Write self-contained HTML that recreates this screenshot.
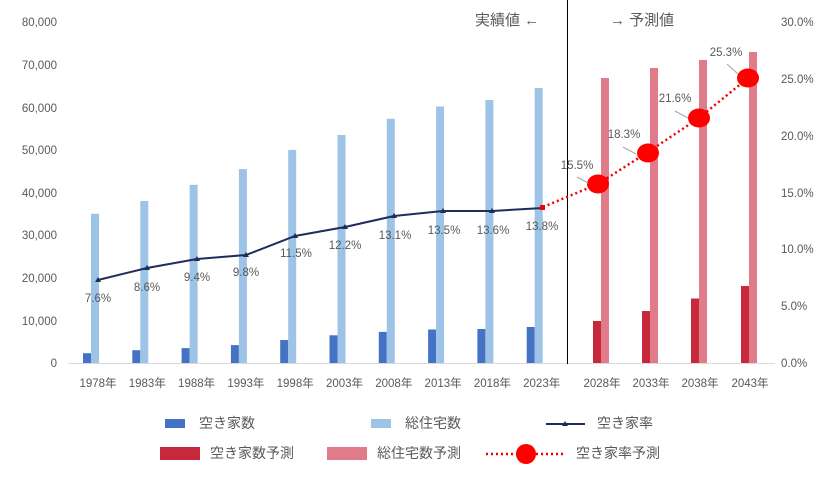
<!DOCTYPE html>
<html><head><meta charset="utf-8"><style>
body{margin:0;background:#fff}
svg text{font-family:"Liberation Sans","Noto Sans CJK JP",sans-serif;fill:#595959}
</style></head><body>
<svg width="830" height="472" xmlns="http://www.w3.org/2000/svg">
<rect width="830" height="472" fill="#fff"/>
<g font-size="11.5" text-anchor="end">
<text x="57" y="367">0</text><text x="57" y="325">10,000</text><text x="57" y="282">20,000</text><text x="57" y="239">30,000</text><text x="57" y="197">40,000</text><text x="57" y="154">50,000</text><text x="57" y="112">60,000</text><text x="57" y="69">70,000</text><text x="57" y="26">80,000</text>
</g>
<g font-size="11.5" text-anchor="start">
<text x="781" y="367">0.0%</text><text x="781" y="310">5.0%</text><text x="781" y="253">10.0%</text><text x="781" y="197">15.0%</text><text x="781" y="140">20.0%</text><text x="781" y="83">25.0%</text><text x="781" y="26">30.0%</text>
</g>
<line x1="68" y1="363.5" x2="775" y2="363.5" stroke="#d9d9d9"/>
<line x1="567.5" y1="0" x2="567.5" y2="364" stroke="#000"/>
<g fill="#4472c4">
<rect x="83" y="353.2" width="8" height="9.8"/><rect x="132.3" y="350.2" width="8" height="12.8"/><rect x="181.6" y="348.1" width="8" height="14.9"/><rect x="230.9" y="345.1" width="8" height="17.9"/><rect x="280.2" y="340" width="8" height="23"/><rect x="329.5" y="335.3" width="8" height="27.7"/><rect x="378.8" y="331.9" width="8" height="31.1"/><rect x="428.1" y="329.5" width="8" height="33.5"/><rect x="477.4" y="329" width="8" height="34"/><rect x="526.7" y="327" width="8" height="36"/>
</g>
<g fill="#9dc3e6">
<rect x="91" y="213.8" width="8" height="149.2"/><rect x="140.3" y="201" width="8" height="162"/><rect x="189.6" y="184.8" width="8" height="178.2"/><rect x="238.9" y="169.1" width="8" height="193.9"/><rect x="288.2" y="149.9" width="8" height="213.1"/><rect x="337.5" y="135" width="8" height="228"/><rect x="386.8" y="118.8" width="8" height="244.2"/><rect x="436.1" y="106.5" width="8" height="256.5"/><rect x="485.4" y="100" width="8" height="263"/><rect x="534.7" y="88" width="8" height="275"/>
</g>
<g fill="#c8283c">
<rect x="593" y="321" width="8" height="42"/><rect x="642" y="311" width="8" height="52"/><rect x="691" y="298.5" width="8" height="64.5"/><rect x="741" y="286" width="8" height="77"/>
</g>
<g fill="#e07b8a">
<rect x="601" y="78" width="8" height="285"/><rect x="650" y="68" width="8" height="295"/><rect x="699" y="60" width="8" height="303"/><rect x="749" y="52" width="8" height="311"/>
</g>
<g font-size="11.5" text-anchor="middle">
<text x="98" y="387">1978年</text><text x="147.3" y="387">1983年</text><text x="196.6" y="387">1988年</text><text x="245.9" y="387">1993年</text><text x="295.2" y="387">1998年</text><text x="344.5" y="387">2003年</text><text x="393.8" y="387">2008年</text><text x="443.1" y="387">2013年</text><text x="492.4" y="387">2018年</text><text x="541.7" y="387">2023年</text><text x="602" y="387">2028年</text><text x="651" y="387">2033年</text><text x="700" y="387">2038年</text><text x="750" y="387">2043年</text>
</g>
<polyline fill="none" stroke="#1f2d5c" stroke-width="2" points="98,280 147,268 197,259 246,255 295,236 345,227 394,216 443,211 492,211 543,208"/>
<g fill="#1f2d5c">
<path d="M98,277 l3,5 h-6z"/><path d="M147,265 l3,5 h-6z"/><path d="M197,256 l3,5 h-6z"/><path d="M246,252 l3,5 h-6z"/><path d="M295,233 l3,5 h-6z"/><path d="M345,224 l3,5 h-6z"/><path d="M394,213 l3,5 h-6z"/><path d="M443,208 l3,5 h-6z"/><path d="M492,208 l3,5 h-6z"/>
</g>
<rect x="540" y="205" width="5" height="5" fill="#e00"/>
<polyline fill="none" stroke="#e00" stroke-width="2.5" stroke-dasharray="2,3" points="543,207 598,184 648,152 699,118 748,78"/>
<g fill="#f00"><ellipse cx="598" cy="184" rx="11" ry="9.5"/><ellipse cx="648" cy="153" rx="11" ry="9.5"/><ellipse cx="699" cy="118" rx="11" ry="9.5"/><ellipse cx="748" cy="78" rx="11" ry="9.5"/></g>
<g stroke="#a6a6a6"><line x1="577" y1="177" x2="588" y2="183"/><line x1="623" y1="147" x2="636" y2="154"/><line x1="675" y1="111" x2="688" y2="118"/><line x1="727" y1="64" x2="738" y2="74"/></g>
<g font-size="11.5" text-anchor="middle" fill="#404040">
<text x="98" y="302">7.6%</text><text x="147" y="291">8.6%</text><text x="197" y="281">9.4%</text><text x="246" y="276">9.8%</text><text x="296" y="257">11.5%</text><text x="345" y="249">12.2%</text><text x="395" y="239">13.1%</text><text x="444" y="234">13.5%</text><text x="493" y="234">13.6%</text><text x="542" y="230">13.8%</text>
<text x="577" y="169">15.5%</text><text x="624" y="138">18.3%</text><text x="675" y="102">21.6%</text><text x="726" y="56">25.3%</text>
</g>
<text x="475" y="25" font-size="15" fill="#262626">実績値 ←</text>
<text x="610" y="25" font-size="15" fill="#262626">→ 予測値</text>
<g font-size="14" fill="#404040">
<rect x="165" y="419" width="20" height="9" fill="#4472c4"/><text x="199" y="428">空き家数</text>
<rect x="371" y="419" width="20" height="9" fill="#9dc3e6"/><text x="405" y="428">総住宅数</text>
<line x1="546" y1="424" x2="585" y2="424" stroke="#1f2d5c" stroke-width="2"/><path d="M565,421 l3,5 h-6z" fill="#1f2d5c"/><text x="597" y="428">空き家率</text>
<rect x="160" y="447" width="40" height="13" fill="#c8283c"/><text x="210" y="458">空き家数予測</text>
<rect x="327" y="447" width="40" height="13" fill="#e07b8a"/><text x="377" y="458">総住宅数予測</text>
<line x1="486" y1="454" x2="566" y2="454" stroke="#e00" stroke-width="2.5" stroke-dasharray="2,3"/><circle cx="526" cy="454" r="10" fill="#f00"/><text x="576" y="458">空き家率予測</text>
</g>
</svg>
</body></html>
